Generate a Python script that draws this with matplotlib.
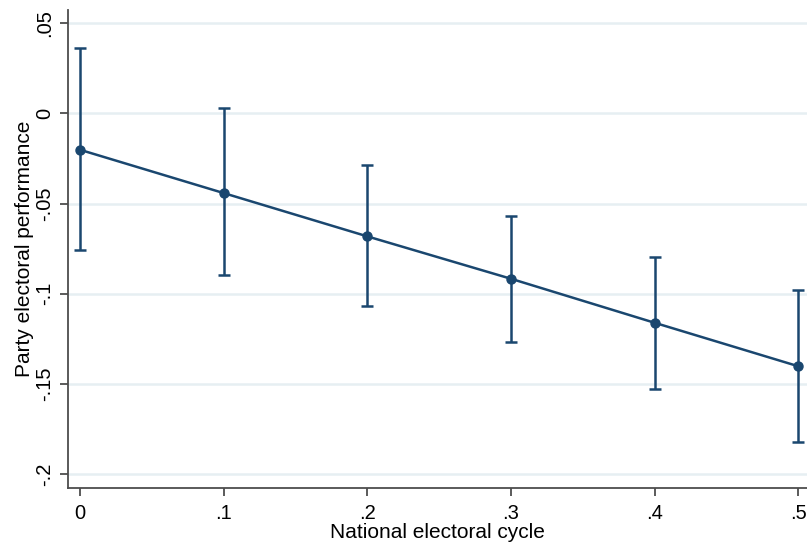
import matplotlib
matplotlib.use("Agg")
import matplotlib.pyplot as plt

# Data
cycle = [0.0, 0.1, 0.2, 0.3, 0.4, 0.5]
estimate = [-0.0202, -0.0442, -0.0682, -0.0917, -0.1161, -0.1402]
ci_upper = [0.0364, 0.0028, -0.0288, -0.0569, -0.0795, -0.0978]
ci_lower = [-0.0758, -0.0898, -0.1066, -0.1265, -0.1527, -0.1824]
xticks = [0.0, 0.1, 0.2, 0.3, 0.4, 0.5]
xticklabels = ["0", ".1", ".2", ".3", ".4", ".5"]
yticks = [0.05, 0.0, -0.05, -0.1, -0.15, -0.2]
yticklabels = [".05", "0", "-.05", "-.1", "-.15", "-.2"]

plt.rcParams['font.family'] = ['Liberation Sans', 'DejaVu Sans']

navy = "#1a476f"
grid_c = "#e6eff2"
axis_c = "#4d4d4d"

fig = plt.figure(figsize=(8.07, 5.46), dpi=100)
ax = fig.add_axes([0.0839, 0.1068, 1 - 0.0839, 0.9817 - 0.1068])

yerr = [[e - l for e, l in zip(estimate, ci_lower)],
        [u - e for e, u in zip(estimate, ci_upper)]]
ax.errorbar(cycle, estimate, yerr=yerr, fmt='none', ecolor=navy,
            elinewidth=1.8, capsize=4.5, capthick=1.8, zorder=3)
ax.plot(cycle, estimate, color=navy, lw=1.8, marker='o', markersize=6.5,
        zorder=4)

ax.set_xlim(-0.0086, 0.506)
ax.set_ylim(-0.2075, 0.0573)
ax.set_xticks(xticks)
ax.set_xticklabels(xticklabels)
ax.set_yticks(yticks)
ax.set_yticklabels(yticklabels, rotation=90, va='center')
ax.yaxis.grid(True, color=grid_c, lw=1.8)
ax.set_axisbelow(True)

for s in ['top', 'right']:
    ax.spines[s].set_visible(False)
for s in ['left', 'bottom']:
    ax.spines[s].set_color(axis_c)
    ax.spines[s].set_linewidth(1.3)
ax.tick_params(axis='both', colors=axis_c, length=5.8, width=1.3,
               labelsize=14.5, labelcolor='black')
ax.tick_params(axis='x', pad=6)
ax.tick_params(axis='y', pad=4)

ax.set_xlabel("National electoral cycle", fontsize=15, labelpad=0)
ax.set_ylabel("Party electoral performance", fontsize=15, labelpad=1)

fig.savefig("out.png", dpi=100)
